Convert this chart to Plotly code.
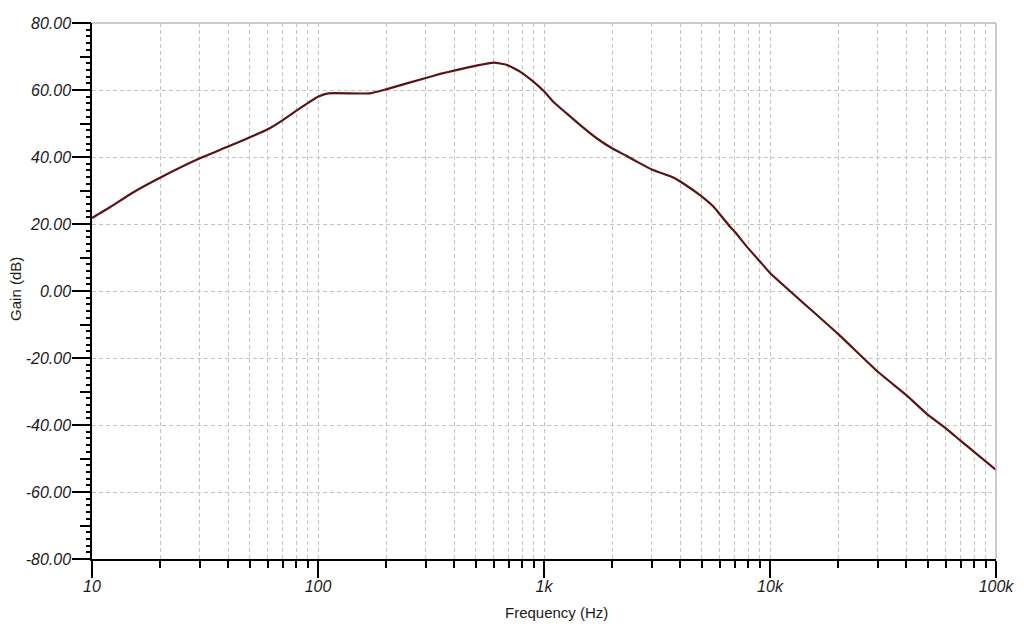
import plotly.graph_objects as go

freq = [10, 12, 15, 20, 30, 40, 50, 60, 68, 83, 100, 111, 170, 200, 300, 347, 400, 521, 600,
        684, 783, 897, 1000, 1099, 1259, 1442, 1710, 2000, 2323, 2661, 3000, 3733, 4137, 4900,
        5614, 6000, 6653, 7000, 8000, 9000, 10000, 20000, 30000, 40000, 50000, 60000, 70000,
        80000, 100000]
gain = [21.8, 25.0, 29.2, 33.8, 39.6, 43.1, 45.9, 48.3, 50.5, 54.5, 58.0, 59.0, 59.0, 60.2, 63.6,
        64.8, 65.8, 67.5, 68.2, 67.5, 65.5, 62.5, 59.6, 56.5, 53.0, 49.6, 45.6, 42.6, 40.3, 38.1,
        36.3, 33.9, 32.1, 28.6, 25.2, 22.9, 19.2, 17.6, 12.8, 8.9, 5.4, -12.8, -24.1, -31.0, -37.0,
        -41.0, -44.8, -48.0, -53.4]

x_major_vals = [10, 100, 1000, 10000, 100000]
x_major_text = ["10", "100", "1k", "10k", "100k"]
x_minor_vals = [m * d for d in [10, 100, 1000, 10000] for m in range(2, 10)]
y_major_vals = [-80, -60, -40, -20, 0, 20, 40, 60, 80]
y_major_text = ["-80.00", "-60.00", "-40.00", "-20.00", "0.00", "20.00", "40.00", "60.00", "80.00"]
x_title = "Frequency (Hz)"
y_title = "Gain (dB)"

grid_col = "#c4c4c4"
txt_col = "#1a1a1a"
tick_font = dict(family="Liberation Sans, Arial, sans-serif", size=16, color=txt_col, style="italic")
title_font = dict(family="Liberation Sans, Arial, sans-serif", size=15, color=txt_col)

fig = go.Figure()
fig.add_trace(go.Scatter(x=freq, y=gain, mode="lines",
                         line=dict(color="#5a1414", width=2.2, shape="spline", smoothing=0.4),
                         showlegend=False, hoverinfo="skip"))
# invisible trace to activate the medium-tick axis
fig.add_trace(go.Scatter(x=[10], y=[0], yaxis="y2", mode="markers", marker=dict(opacity=0),
                         showlegend=False, hoverinfo="skip"))

fig.update_layout(
    width=1024, height=627,
    margin=dict(l=84, r=36, t=15, b=76, autoexpand=False),
    paper_bgcolor="white", plot_bgcolor="white",
    font=dict(family="Liberation Sans, Arial, sans-serif", color=txt_col),
    xaxis=dict(
        type="log", range=[1, 5], automargin=False,
        tickmode="array", tickvals=x_major_vals, ticktext=x_major_text,
        ticks="outside", ticklen=17, tickwidth=1.5, tickcolor="black",
        ticklabelstandoff=-5,
        showline=True, linecolor="black", linewidth=1.5,
        showgrid=True, gridcolor=grid_col, griddash="4px,3px", gridwidth=1,
        tickfont=tick_font, zeroline=False,
        minor=dict(tickmode="array", tickvals=x_minor_vals, ticks="outside", ticklen=7,
                   tickwidth=1.5, tickcolor="black", showgrid=True, gridcolor=grid_col,
                   griddash="4px,3px", gridwidth=1),
    ),
    yaxis=dict(
        range=[-80, 80], automargin=False,
        tickmode="array", tickvals=y_major_vals, ticktext=y_major_text,
        ticks="outside", ticklen=18, tickwidth=1.5, tickcolor="black",
        ticklabelstandoff=-2,
        showline=True, linecolor="black", linewidth=1.5,
        showgrid=True, gridcolor=grid_col, griddash="4px,3px", gridwidth=1,
        tickfont=tick_font, zeroline=False,
        minor=dict(dtick=2, tick0=0, ticks="outside", ticklen=4, tickwidth=1.5,
                   tickcolor="black", showgrid=False),
    ),
    yaxis2=dict(
        range=[-80, 80], overlaying="y", side="left", dtick=10, tick0=0, automargin=False,
        ticks="outside", ticklen=11, tickwidth=1.5, tickcolor="black",
        showticklabels=False, showgrid=False, showline=False, zeroline=False,
    ),
    annotations=[
        dict(text=x_title, xref="paper", yref="paper", x=0.514, y=-0.1007,
             xanchor="center", yanchor="middle", showarrow=False, font=title_font),
        dict(text=y_title, xref="paper", yref="paper", x=-0.084, y=0.504, textangle=-90,
             xanchor="center", yanchor="middle", showarrow=False, font=title_font),
    ],
    shapes=[
        dict(type="line", xref="paper", yref="paper", x0=0, x1=1, y0=1, y1=1,
             line=dict(color="#b8b8b8", width=1.5)),
        dict(type="line", xref="paper", yref="paper", x0=1, x1=1, y0=0, y1=1,
             line=dict(color="#b8b8b8", width=1.5)),
    ],
)

fig.write_html("out.html")
